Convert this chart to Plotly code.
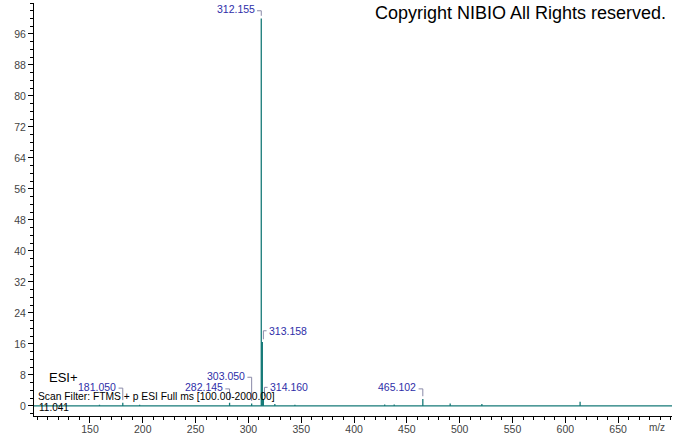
import plotly.graph_objects as go

# ---- data ----
peak_mz = [159.0, 181.050, 197.0, 282.145, 303.050, 312.155, 313.158, 314.160,
           325.0, 344.0, 429.0, 438.0, 465.102, 491.0, 521.0, 614.0]
peak_int = [0.3, 0.8, 0.3, 0.8, 0.6, 100.0, 16.5, 1.8,
            0.5, 0.3, 0.4, 0.4, 1.8, 0.6, 0.5, 1.1]

label_mz = [181.050, 282.145, 303.050, 312.155, 313.158, 314.160, 465.102]
label_text = ["181.050", "282.145", "303.050", "312.155", "313.158", "314.160", "465.102"]
label_y = [5.0, 4.8, 7.8, 102.4, 19.4, 4.8, 4.8]
label_side = ["left", "left", "left", "left", "right", "right", "left"]
label_peak = [0.8, 0.8, 0.6, 100.0, 16.5, 1.8, 1.8]

x_ticks = [150, 200, 250, 300, 350, 400, 450, 500, 550, 600, 650]
y_ticks = [0, 8, 16, 24, 32, 40, 48, 56, 64, 72, 80, 88, 96]

X_MIN, X_MAX = 97, 701
Y_MIN, Y_MAX = -2.6, 104

TEAL = "#167a78"
BLUE = "#2e2ea8"
BRACKET = "#8a8aa8"

# spectrum as stick line over baseline
xs, ys = [X_MIN], [0]
for m, h in sorted(zip(peak_mz, peak_int)):
    xs += [m, m, m]
    ys += [0, h, 0]
xs.append(X_MAX)
ys.append(0)

fig = go.Figure()
fig.add_trace(go.Scatter(x=xs, y=ys, mode="lines",
                         line=dict(color=TEAL, width=1.3),
                         hoverinfo="skip", showlegend=False))

# label brackets
for m, t, ly, side, ph in zip(label_mz, label_text, label_y, label_side, label_peak):
    if side == "left":
        bx = [m - 4, m, m]
        by = [ly - 0.4, ly - 0.4, ph + 0.7]
        fig.add_annotation(x=m - 4.5, y=ly, xref="x", yref="y", text=t,
                           showarrow=False, xanchor="right", yanchor="middle",
                           font=dict(family="Arial, Liberation Sans", size=10.5, color=BLUE))
    else:
        bx = [m + 4, m + 1, m + 1]
        by = [ly, ly, ph + 0.7]
        fig.add_annotation(x=m + 4.5, y=ly, xref="x", yref="y", text=t,
                           showarrow=False, xanchor="left", yanchor="middle",
                           font=dict(family="Arial, Liberation Sans", size=10.5, color=BLUE))
    fig.add_trace(go.Scatter(x=bx, y=by, mode="lines",
                             line=dict(color=BRACKET, width=1),
                             hoverinfo="skip", showlegend=False))

txt_font = dict(family="Arial, Liberation Sans", color="#000000")
fig.add_annotation(xref="paper", yref="paper", x=0.0204, y=0.0944, text="ESI+",
                   showarrow=False, xanchor="left", yanchor="middle",
                   font=dict(size=13, **txt_font))
fig.add_annotation(xref="paper", yref="paper", x=0.003, y=0.0484,
                   text="Scan Filter: FTMS + p ESI Full ms [100.00-2000.00]",
                   showarrow=False, xanchor="left", yanchor="middle",
                   font=dict(size=10.3, **txt_font))
fig.add_annotation(xref="paper", yref="paper", x=0.005, y=0.0194, text="11.041",
                   showarrow=False, xanchor="left", yanchor="middle",
                   font=dict(size=10, **txt_font))
fig.add_annotation(xref="paper", yref="paper", x=0.9937, y=0.975,
                   text="Copyright NIBIO All Rights reserved.",
                   showarrow=False, xanchor="right", yanchor="middle",
                   font=dict(size=18, **txt_font))
fig.add_annotation(xref="paper", yref="paper", x=0.977, y=-0.029, text="m/z",
                   showarrow=False, xanchor="center", yanchor="middle",
                   font=dict(family="Arial, Liberation Sans", size=10, color="#444444"))

tick_font = dict(family="Arial, Liberation Sans", size=10.5, color="#444444")
fig.update_xaxes(range=[X_MIN, X_MAX], tickvals=x_ticks, ticktext=[str(v) for v in x_ticks],
                 showline=True, linecolor="#000000", linewidth=1, automargin=False,
                 ticks="outside", ticklen=6, tickcolor="#000000", tickwidth=1,
                 ticklabelstandoff=-3,
                 minor=dict(dtick=10, tick0=0, ticks="outside", ticklen=3,
                            tickcolor="#000000", showgrid=False),
                 showgrid=False, zeroline=False, tickfont=tick_font)
fig.update_yaxes(range=[Y_MIN, Y_MAX], tickvals=y_ticks, ticktext=[str(v) for v in y_ticks],
                 showline=True, linecolor="#000000", linewidth=1, automargin=False,
                 ticks="outside", ticklen=5, tickcolor="#000000", tickwidth=1,
                 minor=dict(dtick=2, tick0=0, ticks="outside", ticklen=3,
                            tickcolor="#000000", showgrid=False),
                 showgrid=False, zeroline=False, tickfont=tick_font)

fig.update_layout(width=674, height=434,
                  margin=dict(l=34, r=2, t=3, b=18),
                  paper_bgcolor="white", plot_bgcolor="white",
                  showlegend=False)

fig.write_html("out.html", config={"displayModeBar": False},
               post_script="document.body.style.margin='0';document.body.style.overflow='hidden';")
